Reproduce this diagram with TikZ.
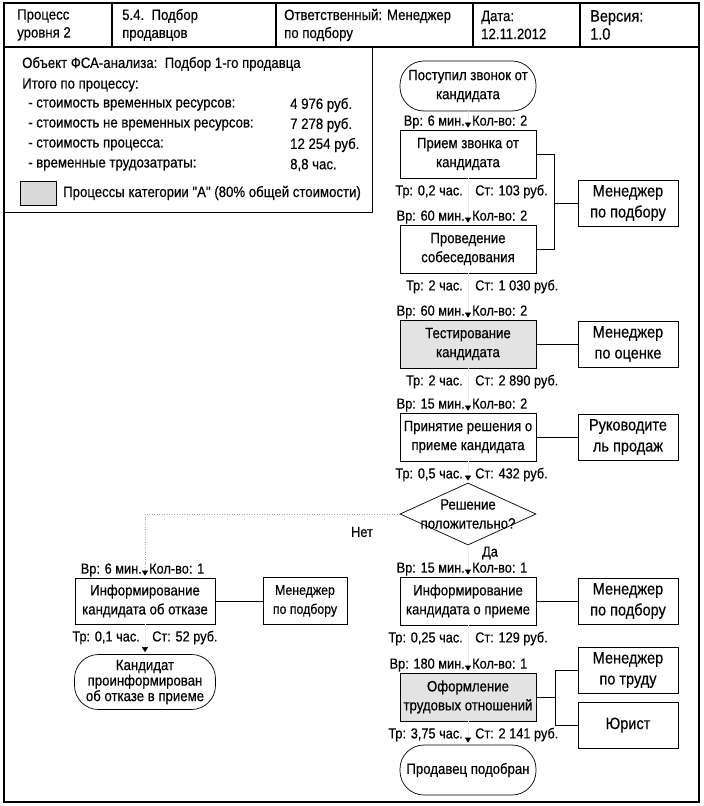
\documentclass[tikz,border=0pt]{standalone}
\usepackage{fontspec}
\newfontfamily\narrowsf{Liberation Sans}[FakeStretch=0.88, FakeBold=0.4]
\usetikzlibrary{arrows.meta,shapes.geometric}

\newcommand{\flowfont}{\narrowsf\fontsize{15}{19}\selectfont}
\newcommand{\bigfont}{\narrowsf\fontsize{16.5}{21}\selectfont}
\newcommand{\infofont}{\narrowsf\fontsize{15}{18}\selectfont}

% labels above a process: time (left) and count (right)
\newcommand{\inlabels}[4]
{
	\node[lbl, anchor=base east] (#1time) at ([xshift=-3pt, yshift=4pt]#2.north) {#3};
	\node[lbl, anchor=base west] (#1qty) at ([xshift=4pt, yshift=4pt]#2.north) {#4};
}
% labels below a process: labour (left) and cost (right)
\newcommand{\outlabels}[4]
{
	\node[lbl, anchor=base east] (#1lab) at ([xshift=-5pt, yshift=-17pt]#2.south) {#3};
	\node[lbl, anchor=base west] (#1cost) at ([xshift=7pt, yshift=-17pt]#2.south) {#4};
}

\tikzset{
	every node/.style={font=\flowfont},
	lbl/.style={inner sep=0pt, font=\narrowsf\fontsize{14.5}{17}\selectfont},
	info/.style={inner sep=0pt, anchor=west, font=\infofont},
	proc/.style={draw, line width=0.8pt, minimum width=136pt, minimum height=48pt, align=center, inner sep=2pt},
	procA/.style={proc, fill=gray!22},
	res/.style={draw, line width=0.7pt, minimum width=100pt, minimum height=46pt, align=center, font=\bigfont},
	term/.style={draw, line width=0.7pt, rounded corners=24pt, minimum width=136pt, minimum height=50pt, align=center, inner sep=1pt},
	dec/.style={draw, diamond, line width=0.7pt, minimum width=136pt, minimum height=62pt, inner sep=0pt},
	flow/.style={draw=gray!15, line width=0.5pt, shorten >=2pt, -{Triangle[color=black, length=5pt, width=6pt]}},
	nope/.style={flow, draw=gray!70, dotted},
	link/.style={draw, line width=0.6pt},
}

\begin{document}
\begin{tikzpicture}[x=1pt, y=-1pt]
	\useasboundingbox (0,0) rectangle (704,806);

	% frame and header
	\draw[line width=1.6pt] (4,3) rectangle (699,802);
	\draw[line width=1.2pt] (4,47) -- (699,47);
	\foreach \xx in {112,276,473,580}
		\draw[line width=1.2pt] (\xx,3) -- (\xx,47);
	\node[info, align=left] (hproc) at (17,25) {Процесс\\уровня 2};
	\node[info, align=left] (hname) at (122,25) {5.4.~~Подбор\\продавцов};
	\node[info, align=left] (howner) at (284,25) {Ответственный: Менеджер\\по подбору};
	\node[info, align=left] (hdate) at (481,25) {Дата:\\12.11.2012};
	\node[info, align=left, font=\narrowsf\fontsize{16.5}{18}\selectfont] (hver) at (590,25) {Версия:\\1.0};

	% FSA summary
	\draw[line width=1pt] (4,47) rectangle (372,212);
	\node[info] (sum0) at (22,64) {Объект ФСА-анализа:~~Подбор 1-го продавца};
	\node[info] (sum1) at (22,85) {Итого по процессу:};
	\node[info] (sum2) at (28,105) {- стоимость временных ресурсов:};
	\node[info] (sum3) at (28,125) {- стоимость не временных ресурсов:};
	\node[info] (sum4) at (28,145) {- стоимость процесса:};
	\node[info] (sum5) at (28,165) {- временные трудозатраты:};
	\node[info] (val2) at (290,105) {4 976 руб.};
	\node[info] (val3) at (290,125) {7 278 руб.};
	\node[info] (val4) at (290,145) {12 254 руб.};
	\node[info] (val5) at (290,165) {8,8 час.};
	\draw[line width=0.6pt, fill=gray!30] (20,181) rectangle (56,205);
	\node[info] (legend) at (63,193) {Процессы категории "А" (80\% общей стоимости)};

	% main flow
	\node[term] (call) at (468,86) {Поступил звонок от\\кандидата};
	\node[proc] (priem) at (468,154) {Прием звонка от\\кандидата};
	\node[proc] (sobes) at (468,249) {Проведение\\собеседования};
	\node[procA] (test) at (468,344) {Тестирование\\кандидата};
	\node[proc] (resh) at (468,437) {Принятие решения о\\приеме кандидата};
	\node[dec] (dec) at (468,514) {};
	\node[inner sep=0pt, align=center] (dectext) at (dec.center) {Решение\\положительно?};
	\node[proc] (inform) at (468,601) {Информирование\\кандидата о приеме};
	\node[procA] (oform) at (468,697) {Оформление\\трудовых отношений};
	\node[term] (done) at (468,770) {Продавец подобран};

	% refusal branch
	\node[proc, minimum width=140pt, minimum height=46pt] (refuse) at (145,601) {Информирование\\кандидата об отказе};
	\node[term, minimum width=141pt, minimum height=55pt, font=\narrowsf\fontsize{15}{15.5}\selectfont] (told) at (145,682) {Кандидат\\проинформирован\\об отказе в приеме};

	% performers
	\node[res] (mgr1) at (628,203) {Менеджер\\по подбору};
	\node[res] (mgr2) at (628,344) {Менеджер\\по оценке};
	\node[res] (boss) at (628,437) {Руководите\\ль продаж};
	\node[res] (mgr3) at (628,601) {Менеджер\\по подбору};
	\node[res] (mgr4) at (628,670) {Менеджер\\по труду};
	\node[res] (lawyer) at (628,725) {Юрист};
	\node[res, minimum width=84pt, minimum height=47pt, font=\narrowsf\fontsize{14}{19}\selectfont] (mgr5) at (305,601) {Менеджер\\по подбору};

	% flow arrows
	\draw[flow] (call) -- (priem);
	\draw[flow] (priem) -- (sobes);
	\draw[flow] (sobes) -- (test);
	\draw[flow] (test) -- (resh);
	\draw[flow] (resh) -- (dec);
	\draw[flow] (dec) -- (inform);
	\draw[flow] (inform) -- (oform);
	\draw[flow] (oform) -- (done);
	\draw[nope] (dec.west) -| (refuse.north);
	\draw[flow] (refuse) -- (told);
	\node[lbl] (no) at (362,532) {Нет};
	\node[lbl] (yes) at (490,553) {Да};

	% performer links
	\coordinate (bus1) at ([xshift=-23pt]mgr1.west);
	\draw[link] (priem.east) -| (bus1) |- (sobes.east);
	\draw[link] (bus1) -- (mgr1);
	\draw[link] (test) -- (mgr2);
	\draw[link] (resh) -- (boss);
	\draw[link] (inform) -- (mgr3);
	\coordinate (bus2) at ([xshift=19pt]oform.east);
	\draw[link] (oform.east) -- (bus2);
	\draw[link] (bus2) |- (mgr4.west);
	\draw[link] (bus2) |- (lawyer.west);
	\draw[link] (refuse) -- (mgr5);

	% time, count, labour and cost
	\inlabels{a}{priem}{Вр: 6 мин.}{Кол-во: 2}
	\outlabels{a}{priem}{Тр: 0,2 час.}{Ст: 103 руб.}
	\inlabels{b}{sobes}{Вр: 60 мин.}{Кол-во: 2}
	\outlabels{b}{sobes}{Тр: 2 час.}{Ст: 1 030 руб.}
	\inlabels{c}{test}{Вр: 60 мин.}{Кол-во: 2}
	\outlabels{c}{test}{Тр: 2 час.}{Ст: 2 890 руб.}
	\inlabels{d}{resh}{Вр: 15 мин.}{Кол-во: 2}
	\outlabels{d}{resh}{Тр: 0,5 час.}{Ст: 432 руб.}
	\inlabels{e}{inform}{Вр: 15 мин.}{Кол-во: 1}
	\outlabels{e}{inform}{Тр: 0,25 час.}{Ст: 129 руб.}
	\inlabels{f}{oform}{Вр: 180 мин.}{Кол-во: 1}
	\outlabels{f}{oform}{Тр: 3,75 час.}{Ст: 2 141 руб.}
	\inlabels{g}{refuse}{Вр: 6 мин.}{Кол-во: 1}
	\outlabels{g}{refuse}{Тр: 0,1 час.}{Ст: 52 руб.}
\end{tikzpicture}
\end{document}
